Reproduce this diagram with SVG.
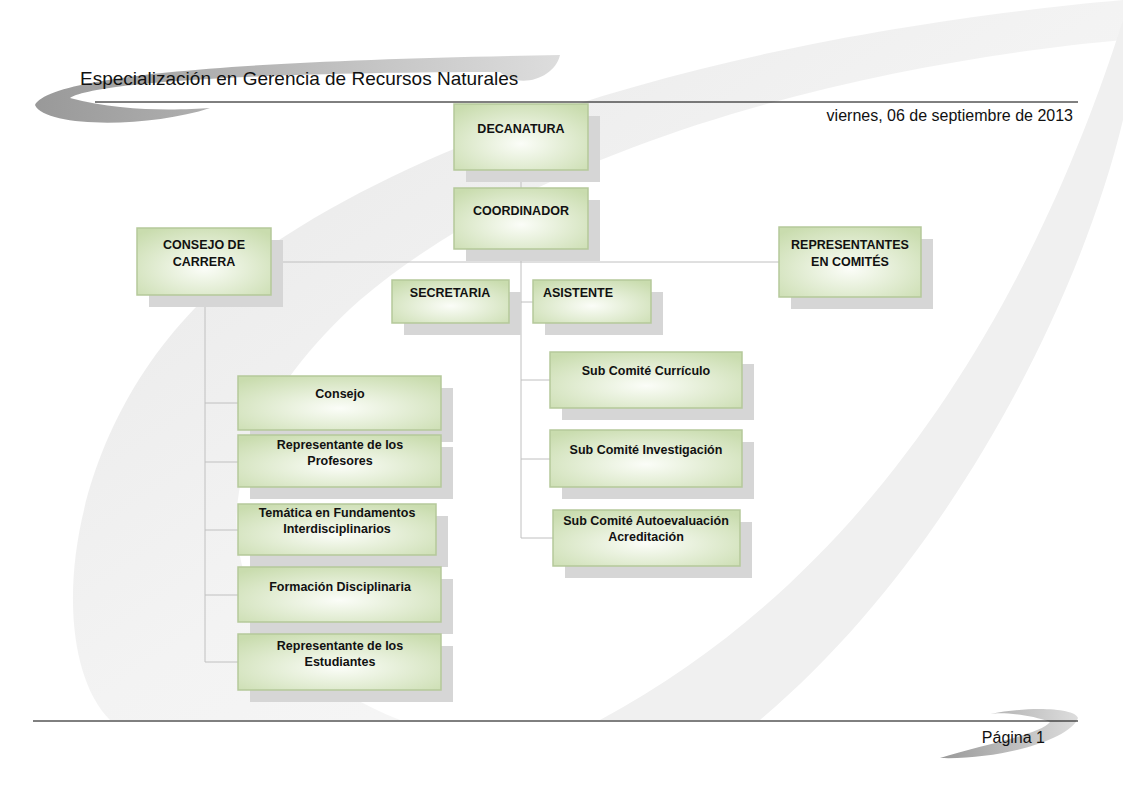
<svg xmlns="http://www.w3.org/2000/svg" width="1123" height="794" viewBox="0 0 1123 794">
<defs>
<radialGradient id="g" cx="0.5" cy="0.6" r="0.7"><stop offset="0" stop-color="#fbfdf8"/><stop offset="1" stop-color="#c9dcae"/></radialGradient>
<linearGradient id="sw" x1="0" y1="0" x2="1" y2="1"><stop offset="0" stop-color="#e6e6e6"/><stop offset="0.5" stop-color="#f3f3f3"/><stop offset="1" stop-color="#fafafa"/></linearGradient>
<linearGradient id="hd" x1="0" y1="0" x2="1" y2="0"><stop offset="0" stop-color="#999"/><stop offset="1" stop-color="#ddd"/></linearGradient>
<style>
.n rect.b{fill:url(#g);stroke:#b5c99a;stroke-width:1.5}
.n rect.s{fill:#d6d6d6}
.n text{font-family:"Liberation Sans",Arial,sans-serif;font-size:12.5px;font-weight:bold;fill:#111;text-anchor:middle}
.c line{stroke:#c0c0c0;stroke-width:1}
.t{font-family:"Liberation Sans",Arial,sans-serif;fill:#111}
</style>
</defs>
<rect width="1123" height="794" fill="#fff"/>
<path d="M1123,0 C900,20 500,80 250,260 C60,400 40,650 110,720 L400,720 C200,640 180,460 360,300 C560,130 900,60 1123,40 Z" fill="url(#sw)"/>
<path d="M1123,20 C1050,250 900,560 600,720 L760,720 C950,560 1080,300 1123,120 Z" fill="#f0f0f0"/>
<path d="M35,105 C50,75 250,60 560,55 C555,78 520,90 500,72 C300,72 100,80 70,98 C120,112 180,110 210,108 C150,128 45,128 35,105 Z" fill="url(#hd)"/>
<path d="M1078,718 C1070,740 1000,760 940,758 C980,745 1040,735 1050,722 C1030,714 1000,712 990,714 C1030,706 1075,708 1078,718 Z" fill="url(#hd)"/>
<text class="t" x="80" y="85" font-size="19">Especialización en Gerencia de Recursos Naturales</text>
<line x1="95" y1="102" x2="1078" y2="102" stroke="#000" stroke-width="1"/>
<text class="t" x="1073" y="121" font-size="16" text-anchor="end">viernes, 06 de septiembre de 2013</text>
<line x1="33" y1="721" x2="1078" y2="721" stroke="#000" stroke-width="1"/>
<text class="t" x="1045" y="743" font-size="16" text-anchor="end">Página 1</text>
<g class="c">
<line x1="521" y1="170" x2="521" y2="538"/>
<line x1="271" y1="262" x2="779" y2="262"/>
<line x1="509" y1="302" x2="533" y2="302"/>
<line x1="521" y1="380" x2="550" y2="380"/>
<line x1="521" y1="459" x2="550" y2="459"/>
<line x1="521" y1="538" x2="553" y2="538"/>
<line x1="205" y1="295" x2="205" y2="662"/>
<line x1="205" y1="403" x2="238" y2="403"/>
<line x1="205" y1="462" x2="238" y2="462"/>
<line x1="205" y1="530" x2="238" y2="530"/>
<line x1="205" y1="595" x2="238" y2="595"/>
<line x1="205" y1="662" x2="238" y2="662"/>
</g>
<g id="decanatura" class="n"><rect class="s" x="466" y="116" width="134" height="66"/><rect class="b" x="454" y="104" width="134" height="66"/><text x="521" y="133">DECANATURA</text></g>
<g id="coordinador" class="n"><rect class="s" x="466" y="200" width="134" height="61"/><rect class="b" x="454" y="188" width="134" height="61"/><text x="521" y="215">COORDINADOR</text></g>
<g id="consejo-carrera" class="n"><rect class="s" x="149" y="240" width="134" height="67"/><rect class="b" x="137" y="228" width="134" height="67"/><text x="204" y="249">CONSEJO DE</text><text x="204" y="266">CARRERA</text></g>
<g id="representantes" class="n"><rect class="s" x="791" y="239" width="142" height="70"/><rect class="b" x="779" y="227" width="142" height="70"/><text x="850" y="249">REPRESENTANTES</text><text x="850" y="266">EN COMITÉS</text></g>
<g id="secretaria" class="n"><rect class="s" x="404" y="292" width="117" height="43"/><rect class="b" x="392" y="280" width="117" height="43"/><text x="450" y="297">SECRETARIA</text></g>
<g id="asistente" class="n"><rect class="s" x="545" y="292" width="118" height="43"/><rect class="b" x="533" y="280" width="118" height="43"/><text x="578" y="297">ASISTENTE</text></g>
<g id="curriculo" class="n"><rect class="s" x="562" y="364" width="192" height="56"/><rect class="b" x="550" y="352" width="192" height="56"/><text x="646" y="375">Sub Comité Currículo</text></g>
<g id="investigacion" class="n"><rect class="s" x="562" y="442" width="192" height="57"/><rect class="b" x="550" y="430" width="192" height="57"/><text x="646" y="454">Sub Comité Investigación</text></g>
<g id="autoevaluacion" class="n"><rect class="s" x="565" y="522" width="187" height="56"/><rect class="b" x="553" y="510" width="187" height="56"/><text x="646" y="525">Sub Comité Autoevaluación</text><text x="646" y="541">Acreditación</text></g>
<g id="consejo" class="n"><rect class="s" x="250" y="388" width="203" height="54"/><rect class="b" x="238" y="376" width="203" height="54"/><text x="340" y="398">Consejo</text></g>
<g id="rep-profesores" class="n"><rect class="s" x="250" y="447" width="203" height="52"/><rect class="b" x="238" y="435" width="203" height="52"/><text x="340" y="449">Representante de los</text><text x="340" y="465">Profesores</text></g>
<g id="tematica" class="n"><rect class="s" x="250" y="516" width="198" height="51"/><rect class="b" x="238" y="504" width="198" height="51"/><text x="337" y="517">Temática en Fundamentos</text><text x="337" y="533">Interdisciplinarios</text></g>
<g id="formacion" class="n"><rect class="s" x="250" y="579" width="203" height="55"/><rect class="b" x="238" y="567" width="203" height="55"/><text x="340" y="591">Formación Disciplinaria</text></g>
<g id="rep-estudiantes" class="n"><rect class="s" x="250" y="646" width="203" height="56"/><rect class="b" x="238" y="634" width="203" height="56"/><text x="340" y="650">Representante de los</text><text x="340" y="666">Estudiantes</text></g>
</svg>
